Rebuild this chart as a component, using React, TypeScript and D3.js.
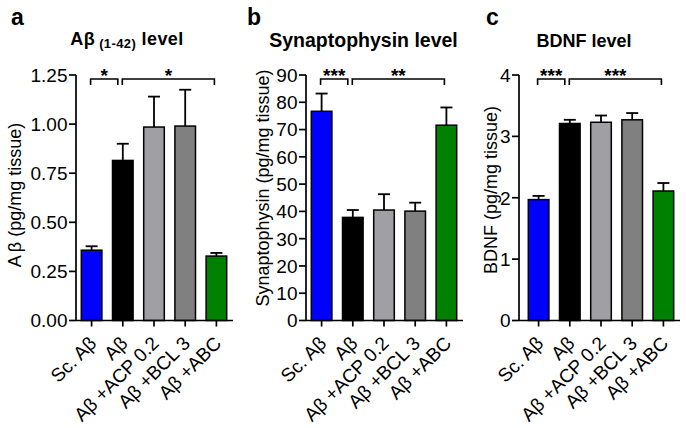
import React from 'react';
import * as d3 from 'd3';

// Shared categories and bar fills
const categories = ['Sc. Aβ', 'Aβ', 'Aβ +ACP 0.2', 'Aβ +BCL 3', 'Aβ +ABC'];
const barColors = ['#0000ff', '#000000', '#a0a0a4', '#808080', '#008000'];

// Panel a: Aβ(1-42) level
const abetaMeans = [0.358, 0.815, 0.985, 0.99, 0.328];
const abetaErrors = [0.02, 0.085, 0.155, 0.185, 0.016];
const abetaTicks = [0, 0.25, 0.5, 0.75, 1, 1.25];
const abetaStars = ['*', '*'];

// Panel b: Synaptophysin level
const synMeans = [76.7, 37.8, 40.5, 40.1, 71.6];
const synErrors = [6.5, 2.7, 5.8, 3.1, 6.5];
const synTicks = [0, 10, 20, 30, 40, 50, 60, 70, 80, 90];
const synStars = ['***', '**'];

// Panel c: BDNF level
const bdnfMeans = [1.97, 3.21, 3.23, 3.27, 2.11];
const bdnfErrors = [0.06, 0.06, 0.11, 0.11, 0.13];
const bdnfTicks = [0, 1, 2, 3, 4];
const bdnfStars = ['***', '***'];

const FONT = '"Liberation Sans", Arial, Helvetica, sans-serif';
const top = 75;
const bottom = 320.5;

const Panel = ({ letter, letterX, title, yLabel, yLabelX, yLabelY, axisX, bandStart, axisEnd, ticks, tickFormat, means, errors, stars }) => {
  // y scale runs from 0 at the x axis up to the last tick
  const yScale = d3.scaleLinear()
    .domain([0, ticks[ticks.length - 1]])
    .range([bottom, top]);

  // five bars, evenly spaced
  const xScale = d3.scaleBand()
    .domain(categories)
    .range([bandStart, bandStart + 156])
    .paddingInner(0.34)
    .paddingOuter(0.17);
  const cx = (i) => xScale(categories[i]) + xScale.bandwidth() / 2;

  // significance brackets: Sc. Aβ vs Aβ, and Aβ vs Aβ +ABC
  const brackets = [
    { x1: cx(0) - 1, x2: cx(1) - 5, label: stars[0] },
    { x1: cx(1) - 0.5, x2: cx(4) - 2, label: stars[1] },
  ];

  return (
    <g fontFamily={FONT}>
      <text x={letterX} y={25} fontSize={23} fontWeight="bold">{letter}</text>
      {title}

      {/* y axis label */}
      <text transform={`translate(${yLabelX},${yLabelY}) rotate(-90)`} textAnchor="middle" fontSize={18}>
        {yLabel}
      </text>

      {/* error bars */}
      {means.map((m, i) => (
        <g key={'err' + i} stroke="#000" strokeWidth={1.8}>
          <line x1={cx(i)} x2={cx(i)} y1={yScale(m)} y2={yScale(m + errors[i])} />
          <line x1={cx(i) - 6} x2={cx(i) + 6} y1={yScale(m + errors[i])} y2={yScale(m + errors[i])} />
        </g>
      ))}

      {/* bars */}
      {means.map((m, i) => (
        <rect
          key={'bar' + i}
          x={xScale(categories[i])}
          y={yScale(m)}
          width={xScale.bandwidth()}
          height={yScale(0) - yScale(m)}
          fill={barColors[i]}
          stroke="#000"
          strokeWidth={1.5}
        />
      ))}

      {/* y axis */}
      <line x1={axisX} x2={axisX} y1={top} y2={bottom} stroke="#000" strokeWidth={1.7} />
      {ticks.map((t) => (
        <g key={'yt' + t}>
          <line x1={axisX - 7} x2={axisX} y1={yScale(t)} y2={yScale(t)} stroke="#000" strokeWidth={1.7} />
          <text x={axisX - 8.5} y={yScale(t)} dy="0.36em" textAnchor="end" fontSize={19}>
            {tickFormat(t)}
          </text>
        </g>
      ))}

      {/* x axis */}
      <line x1={axisX} x2={axisEnd} y1={bottom} y2={bottom} stroke="#000" strokeWidth={1.7} />
      {categories.map((c, i) => (
        <g key={'xt' + i}>
          <line x1={cx(i)} x2={cx(i)} y1={bottom} y2={bottom + 6} stroke="#000" strokeWidth={1.7} />
          <text transform={`translate(${cx(i) + 6},${bottom + 24}) rotate(-45)`} textAnchor="end" fontSize={19}>
            {c}
          </text>
        </g>
      ))}

      {/* significance */}
      {brackets.map((b, i) => (
        <g key={'sig' + i}>
          <path
            d={`M${b.x1},85V79H${b.x2}V85`}
            fill="none"
            stroke="#000"
            strokeWidth={1.6}
          />
          <text x={(b.x1 + b.x2) / 2} y={82} textAnchor="middle" fontSize={19} fontWeight="bold">{b.label}</text>
        </g>
      ))}
    </g>
  );
};

const App = () => {
  const fmt2 = d3.format('.2f');
  const fmt0 = d3.format('d');

  return (
    <div style={{ position: 'absolute', left: 0, top: 0 }}>
      <svg width={686} height={428} style={{ display: 'block', background: '#fff' }}>
        <Panel
          letter="a"
          letterX={11}
          title={
            <text x={127} y={45} textAnchor="middle" fontSize={18} fontWeight="bold" letterSpacing={0.4}>
              Aβ<tspan fontSize={13} dy={3}> (1-42)</tspan><tspan dy={-3}> level</tspan>
            </text>
          }
          yLabel={<>A<tspan dx={3}>β</tspan> (pg/mg tissue)</>}
          yLabelX={21}
          yLabelY={195}
          axisX={76}
          bandStart={76}
          axisEnd={233}
          ticks={abetaTicks}
          tickFormat={fmt2}
          means={abetaMeans}
          errors={abetaErrors}
          stars={abetaStars}
        />
        <Panel
          letter="b"
          letterX={247}
          title={
            <text x={363.5} y={47} textAnchor="middle" fontSize={19.5} fontWeight="bold">
              Synaptophysin level
            </text>
          }
          yLabel="Synaptophysin (pg/mg tissue)"
          yLabelX={269}
          yLabelY={188}
          axisX={306}
          bandStart={306}
          axisEnd={463}
          ticks={synTicks}
          tickFormat={fmt0}
          means={synMeans}
          errors={synErrors}
          stars={synStars}
        />
        <Panel
          letter="c"
          letterX={486}
          title={
            <text x={584} y={47} textAnchor="middle" fontSize={18} fontWeight="bold">
              BDNF level
            </text>
          }
          yLabel="BDNF (pg/mg tissue)"
          yLabelX={497}
          yLabelY={190}
          axisX={519}
          bandStart={523}
          axisEnd={680}
          ticks={bdnfTicks}
          tickFormat={fmt0}
          means={bdnfMeans}
          errors={bdnfErrors}
          stars={bdnfStars}
        />
      </svg>
    </div>
  );
};

export default App;
